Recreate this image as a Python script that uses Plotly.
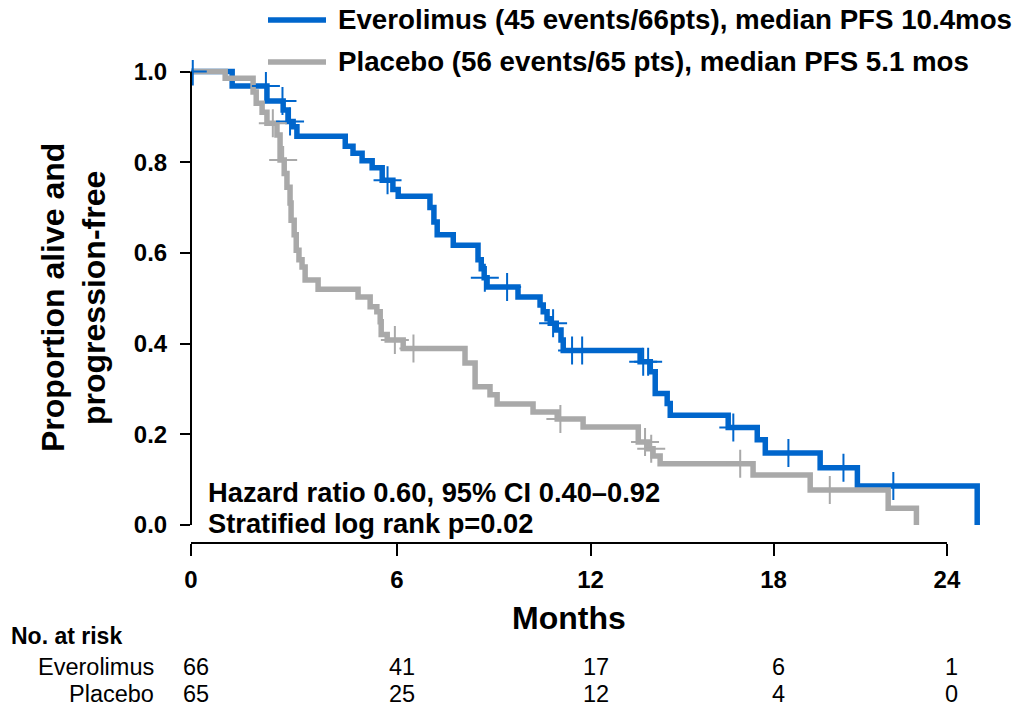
import numpy as np
import plotly.graph_objects as go

# ---------------- data ----------------
evero_time = [0, 1.17, 2.17, 2.64, 2.78, 2.93, 3.04, 4.46, 4.69, 4.96, 5.26, 5.56, 5.88, 6.04,
              7.00, 7.12, 7.22, 7.71, 8.47, 8.57, 8.66, 8.75, 9.71, 10.40, 10.50, 10.62, 10.72,
              10.91, 11.06, 11.13, 13.59, 13.92, 14.08, 14.47, 14.57, 16.48, 17.45, 17.72,
              19.58, 20.86, 25.08]
evero_surv = [1.0, 0.968, 0.935, 0.915, 0.890, 0.878, 0.857, 0.835, 0.820, 0.803, 0.788, 0.760,
              0.740, 0.725, 0.700, 0.668, 0.640, 0.617, 0.585, 0.565, 0.545, 0.525, 0.503, 0.485,
              0.470, 0.455, 0.445, 0.430, 0.408, 0.385, 0.360, 0.338, 0.290, 0.268, 0.242, 0.215,
              0.188, 0.159, 0.126, 0.086, 0.0]
evero_cens_time = [0.05, 2.14, 2.62, 2.84, 5.72, 8.68, 9.37, 10.81, 11.41, 11.73, 13.69, 13.85,
                   16.65, 18.50, 20.38, 22.11]
evero_cens_surv = [1.0, 0.968, 0.935, 0.890, 0.760, 0.545, 0.525, 0.445, 0.385, 0.385, 0.360,
                   0.360, 0.215, 0.159, 0.126, 0.086]

placebo_time = [0, 0.97, 1.77, 1.86, 2.03, 2.17, 2.46, 2.55, 2.67, 2.75, 2.84, 2.87, 2.96, 3.02,
                3.10, 3.19, 3.28, 3.66, 4.84, 5.20, 5.40, 5.50, 5.53, 5.71, 6.19, 8.07, 8.38,
                8.84, 9.06, 10.18, 10.94, 11.76, 13.53, 13.85, 14.01, 14.24, 17.31, 19.24,
                21.93, 22.92]
placebo_surv = [1.0, 0.985, 0.955, 0.930, 0.910, 0.886, 0.860, 0.805, 0.775, 0.745, 0.710, 0.672,
                0.640, 0.606, 0.585, 0.569, 0.540, 0.520, 0.503, 0.481, 0.470, 0.448, 0.420,
                0.408, 0.389, 0.357, 0.305, 0.287, 0.267, 0.249, 0.234, 0.216, 0.183, 0.168,
                0.152, 0.135, 0.110, 0.077, 0.037, 0.0]
placebo_cens_time = [2.34, 2.64, 5.94, 6.50, 11.04, 13.75, 13.95, 16.88, 19.91]
placebo_cens_surv = [0.886, 0.805, 0.408, 0.389, 0.234, 0.183, 0.168, 0.135, 0.077]

x_ticks = [0, 6, 12, 18, 24]
x_ticklabels = ["0", "6", "12", "18", "24"]
y_ticks = [0.0, 0.2, 0.4, 0.6, 0.8, 1.0]
y_ticklabels = ["0.0", "0.2", "0.4", "0.6", "0.8", "1.0"]

risk_groups = ["Everolimus", "Placebo"]
risk_evero = [66, 41, 17, 6, 1]
risk_placebo = [65, 25, 12, 4, 0]

legend_labels = ["Everolimus (45 events/66pts), median PFS 10.4mos",
                 "Placebo (56 events/65 pts), median PFS 5.1 mos"]
y_title_lines = ["Proportion alive and", "progression-free"]
stats_lines = ["Hazard ratio 0.60, 95% CI 0.40\u20130.92", "Stratified log rank p=0.02"]

# ---------------- style ----------------
BLUE = "#0066cc"
GREY = "#a9a9a9"
FONT = "Arial, Liberation Sans, sans-serif"
W, H = 1022, 708
L, R, T, B = 191, 22, 60, 165
PW, PH = W - L - R, H - T - B
OFFSET = 93.0          # the source chart's time axis is compressed (log(t + 93) scale)
X_MAX = 25.9


def xd(t):
    return np.asarray(t, dtype=float) + OFFSET


def paper_x(px):
    return (px - L) / PW


def paper_y(py):
    return (H - B - py) / PH


fig = go.Figure()

fig.add_trace(go.Scatter(x=xd(evero_time), y=evero_surv, mode="lines", line_shape="hv",
                         line=dict(color=BLUE, width=5.5), name=legend_labels[0],
                         showlegend=False, hoverinfo="skip"))
fig.add_trace(go.Scatter(x=xd(placebo_time), y=placebo_surv, mode="lines", line_shape="hv",
                         line=dict(color=GREY, width=5.5), name=legend_labels[1],
                         showlegend=False, hoverinfo="skip"))
fig.add_trace(go.Scatter(x=xd(evero_cens_time), y=evero_cens_surv, mode="markers",
                         marker=dict(symbol="cross-thin", size=20, color=BLUE,
                                     line=dict(color=BLUE, width=2)),
                         showlegend=False, hoverinfo="skip"))
fig.add_trace(go.Scatter(x=xd(placebo_cens_time), y=placebo_cens_surv, mode="markers",
                         marker=dict(symbol="cross-thin", size=20, color=GREY,
                                     line=dict(color=GREY, width=2)),
                         showlegend=False, hoverinfo="skip"))

y_lo = -(543 - 525) / 453.5
y_hi = 1 + (71.5 - 60) / 453.5

fig.update_layout(
    width=W, height=H,
    margin=dict(l=L, r=R, t=T, b=B, pad=0),
    paper_bgcolor="white", plot_bgcolor="white",
    font=dict(family=FONT, color="black"),
    showlegend=False,
    xaxis=dict(type="log", range=[np.log10(OFFSET), np.log10(X_MAX + OFFSET)],
               tickvals=list(xd(x_ticks)), ticktext=x_ticklabels,
               ticks="outside", ticklen=12, tickwidth=2, tickcolor="black",
               showline=False, showgrid=False, zeroline=False,
               tickfont=dict(family=FONT, size=24, color="black", weight="bold"),
               ticklabelstandoff=3, automargin=False),
    yaxis=dict(range=[y_lo, y_hi], tickvals=y_ticks, ticktext=y_ticklabels,
               ticks="outside", ticklen=10, tickwidth=2, tickcolor="black",
               showline=False, showgrid=False, zeroline=False,
               tickfont=dict(family=FONT, size=24, color="black", weight="bold"),
               ticklabelstandoff=8, automargin=False),
)

# axis lines (x axis spans 0-24 months, y axis spans 0-1)
fig.add_shape(type="line", xref="x", yref="paper", x0=xd(0), x1=xd(24), y0=0, y1=0,
              line=dict(color="black", width=2))
fig.add_shape(type="line", xref="paper", yref="y", x0=0, x1=0, y0=0, y1=1,
              line=dict(color="black", width=2))

# legend (drawn manually to match the long line samples)
for i, (lab, col) in enumerate(zip(legend_labels, [BLUE, GREY])):
    py = 20 + 42 * i
    fig.add_shape(type="line", xref="paper", yref="paper",
                  x0=paper_x(268), x1=paper_x(326), y0=paper_y(py), y1=paper_y(py),
                  line=dict(color=col, width=5.5))
    fig.add_annotation(text=lab, xref="paper", yref="paper", x=paper_x(336), y=paper_y(py),
                       xanchor="left", yanchor="middle", showarrow=False,
                       font=dict(family=FONT, size=27.7, color="black", weight="bold"))

# axis titles
for i, line in enumerate(y_title_lines):
    fig.add_annotation(text=line, xref="paper", yref="paper",
                       x=paper_x(53 + 41 * i), y=paper_y(298), textangle=-90, showarrow=False,
                       xanchor="center", yanchor="middle",
                       font=dict(family=FONT, size=32, color="black", weight="bold"))
fig.add_annotation(text="Months", xref="paper", yref="paper", x=paper_x(569), y=paper_y(618),
                   showarrow=False, xanchor="center", yanchor="middle",
                   font=dict(family=FONT, size=32, color="black", weight="bold"))

# statistics text
for i, line in enumerate(stats_lines):
    fig.add_annotation(text=line, xref="paper", yref="paper", x=paper_x(206),
                       y=paper_y(492 + 31 * i), xanchor="left", yanchor="middle",
                       showarrow=False,
                       font=dict(family=FONT, size=27.3, color="black", weight="bold"))

# number at risk table
fig.add_annotation(text="No. at risk", xref="paper", yref="paper", x=paper_x(9),
                   y=paper_y(636), xanchor="left", yanchor="middle", showarrow=False,
                   font=dict(family=FONT, size=23, color="black", weight="bold"))
for row, (grp, counts) in enumerate(zip(risk_groups, [risk_evero, risk_placebo])):
    py = 667 + 27 * row
    fig.add_annotation(text=grp, xref="paper", yref="paper", x=paper_x(156), y=paper_y(py),
                       xanchor="right", yanchor="middle", showarrow=False,
                       font=dict(family=FONT, size=23.5, color="black"))
    for t, n in zip(x_ticks, counts):
        fig.add_annotation(text=str(n), xref="x", yref="paper", x=np.log10(t + OFFSET),
                           y=paper_y(py), xanchor="center", yanchor="middle", xshift=5,
                           showarrow=False,
                           font=dict(family=FONT, size=23.5, color="black"))

fig.write_html("out.html")
